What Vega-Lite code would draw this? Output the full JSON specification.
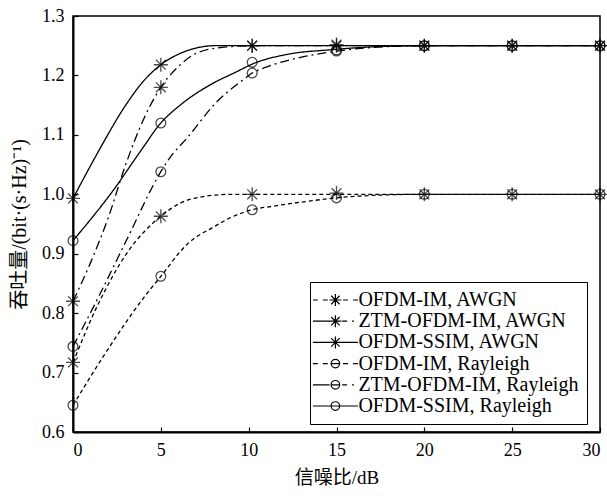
{
  "$schema": "https://vega.github.io/schema/vega-lite/v6.json",
  "width": 527,
  "height": 416,
  "autosize": "none",
  "padding": {"left": 73, "top": 16, "right": 7, "bottom": 71},
  "background": "white",
  "config": {
    "view": {"stroke": "black", "strokeWidth": 1.5},
    "axis": {
      "domainColor": "black", "domainWidth": 2, "tickColor": "black", "tickSize": -5, "tickWidth": 1.2,
      "grid": false, "labelColor": "black", "titleFontWeight": "normal", "titleColor": "black"
    }
  },
  "datasets": {
    "curves": [
      {"series": "OFDM-IM, AWGN", "snr": 0, "tp": 0.717},
      {"series": "OFDM-IM, AWGN", "snr": 1.35, "tp": 0.81},
      {"series": "OFDM-IM, AWGN", "snr": 3.07, "tp": 0.901},
      {"series": "OFDM-IM, AWGN", "snr": 5, "tp": 0.963},
      {"series": "OFDM-IM, AWGN", "snr": 6.1, "tp": 0.985},
      {"series": "OFDM-IM, AWGN", "snr": 7.4, "tp": 0.996},
      {"series": "OFDM-IM, AWGN", "snr": 9, "tp": 1.0},
      {"series": "OFDM-IM, AWGN", "snr": 10.2, "tp": 1.0},
      {"series": "OFDM-IM, AWGN", "snr": 15, "tp": 1.0},
      {"series": "OFDM-IM, AWGN", "snr": 20, "tp": 1.0},
      {"series": "OFDM-IM, AWGN", "snr": 25, "tp": 1.0},
      {"series": "OFDM-IM, AWGN", "snr": 30, "tp": 1.0},
      {"series": "ZTM-OFDM-IM, AWGN", "snr": 0, "tp": 0.82},
      {"series": "ZTM-OFDM-IM, AWGN", "snr": 1, "tp": 0.885},
      {"series": "ZTM-OFDM-IM, AWGN", "snr": 2, "tp": 0.96},
      {"series": "ZTM-OFDM-IM, AWGN", "snr": 3, "tp": 1.05},
      {"series": "ZTM-OFDM-IM, AWGN", "snr": 4, "tp": 1.125},
      {"series": "ZTM-OFDM-IM, AWGN", "snr": 5, "tp": 1.18},
      {"series": "ZTM-OFDM-IM, AWGN", "snr": 6, "tp": 1.215},
      {"series": "ZTM-OFDM-IM, AWGN", "snr": 7, "tp": 1.237},
      {"series": "ZTM-OFDM-IM, AWGN", "snr": 8.4, "tp": 1.247},
      {"series": "ZTM-OFDM-IM, AWGN", "snr": 10.2, "tp": 1.25},
      {"series": "ZTM-OFDM-IM, AWGN", "snr": 15, "tp": 1.25},
      {"series": "ZTM-OFDM-IM, AWGN", "snr": 20, "tp": 1.25},
      {"series": "ZTM-OFDM-IM, AWGN", "snr": 25, "tp": 1.25},
      {"series": "ZTM-OFDM-IM, AWGN", "snr": 30, "tp": 1.25},
      {"series": "OFDM-SSIM, AWGN", "snr": 0, "tp": 0.993},
      {"series": "OFDM-SSIM, AWGN", "snr": 1.5, "tp": 1.075},
      {"series": "OFDM-SSIM, AWGN", "snr": 3, "tp": 1.15},
      {"series": "OFDM-SSIM, AWGN", "snr": 4, "tp": 1.19},
      {"series": "OFDM-SSIM, AWGN", "snr": 5, "tp": 1.218},
      {"series": "OFDM-SSIM, AWGN", "snr": 6.1, "tp": 1.237},
      {"series": "OFDM-SSIM, AWGN", "snr": 7, "tp": 1.246},
      {"series": "OFDM-SSIM, AWGN", "snr": 8, "tp": 1.25},
      {"series": "OFDM-SSIM, AWGN", "snr": 10.2, "tp": 1.25},
      {"series": "OFDM-SSIM, AWGN", "snr": 15, "tp": 1.25},
      {"series": "OFDM-SSIM, AWGN", "snr": 20, "tp": 1.25},
      {"series": "OFDM-SSIM, AWGN", "snr": 25, "tp": 1.25},
      {"series": "OFDM-SSIM, AWGN", "snr": 30, "tp": 1.25},
      {"series": "OFDM-IM, Rayleigh", "snr": 0, "tp": 0.645},
      {"series": "OFDM-IM, Rayleigh", "snr": 1.7, "tp": 0.726},
      {"series": "OFDM-IM, Rayleigh", "snr": 4, "tp": 0.825},
      {"series": "OFDM-IM, Rayleigh", "snr": 5, "tp": 0.862},
      {"series": "OFDM-IM, Rayleigh", "snr": 6.5, "tp": 0.916},
      {"series": "OFDM-IM, Rayleigh", "snr": 8, "tp": 0.945},
      {"series": "OFDM-IM, Rayleigh", "snr": 9.3, "tp": 0.965},
      {"series": "OFDM-IM, Rayleigh", "snr": 10.2, "tp": 0.974},
      {"series": "OFDM-IM, Rayleigh", "snr": 11.4, "tp": 0.98},
      {"series": "OFDM-IM, Rayleigh", "snr": 13.3, "tp": 0.988},
      {"series": "OFDM-IM, Rayleigh", "snr": 15, "tp": 0.994},
      {"series": "OFDM-IM, Rayleigh", "snr": 17, "tp": 0.998},
      {"series": "OFDM-IM, Rayleigh", "snr": 20, "tp": 1.0},
      {"series": "OFDM-IM, Rayleigh", "snr": 25, "tp": 1.0},
      {"series": "OFDM-IM, Rayleigh", "snr": 30, "tp": 1.0},
      {"series": "ZTM-OFDM-IM, Rayleigh", "snr": 0, "tp": 0.744},
      {"series": "ZTM-OFDM-IM, Rayleigh", "snr": 1.5, "tp": 0.83},
      {"series": "ZTM-OFDM-IM, Rayleigh", "snr": 3, "tp": 0.92},
      {"series": "ZTM-OFDM-IM, Rayleigh", "snr": 5, "tp": 1.038},
      {"series": "ZTM-OFDM-IM, Rayleigh", "snr": 5.5, "tp": 1.061},
      {"series": "ZTM-OFDM-IM, Rayleigh", "snr": 6.5, "tp": 1.095},
      {"series": "ZTM-OFDM-IM, Rayleigh", "snr": 8.2, "tp": 1.156},
      {"series": "ZTM-OFDM-IM, Rayleigh", "snr": 9.7, "tp": 1.193},
      {"series": "ZTM-OFDM-IM, Rayleigh", "snr": 10.2, "tp": 1.204},
      {"series": "ZTM-OFDM-IM, Rayleigh", "snr": 10.9, "tp": 1.213},
      {"series": "ZTM-OFDM-IM, Rayleigh", "snr": 12.9, "tp": 1.23},
      {"series": "ZTM-OFDM-IM, Rayleigh", "snr": 14.8, "tp": 1.24},
      {"series": "ZTM-OFDM-IM, Rayleigh", "snr": 17, "tp": 1.247},
      {"series": "ZTM-OFDM-IM, Rayleigh", "snr": 20, "tp": 1.25},
      {"series": "ZTM-OFDM-IM, Rayleigh", "snr": 25, "tp": 1.25},
      {"series": "ZTM-OFDM-IM, Rayleigh", "snr": 30, "tp": 1.25},
      {"series": "OFDM-SSIM, Rayleigh", "snr": 0, "tp": 0.922},
      {"series": "OFDM-SSIM, Rayleigh", "snr": 2.3, "tp": 1.007},
      {"series": "OFDM-SSIM, Rayleigh", "snr": 3.9, "tp": 1.075},
      {"series": "OFDM-SSIM, Rayleigh", "snr": 5, "tp": 1.12},
      {"series": "OFDM-SSIM, Rayleigh", "snr": 6.1, "tp": 1.15},
      {"series": "OFDM-SSIM, Rayleigh", "snr": 7.8, "tp": 1.184},
      {"series": "OFDM-SSIM, Rayleigh", "snr": 9.3, "tp": 1.206},
      {"series": "OFDM-SSIM, Rayleigh", "snr": 10.2, "tp": 1.219},
      {"series": "OFDM-SSIM, Rayleigh", "snr": 12.3, "tp": 1.236},
      {"series": "OFDM-SSIM, Rayleigh", "snr": 14.6, "tp": 1.243},
      {"series": "OFDM-SSIM, Rayleigh", "snr": 17, "tp": 1.248},
      {"series": "OFDM-SSIM, Rayleigh", "snr": 20, "tp": 1.25},
      {"series": "OFDM-SSIM, Rayleigh", "snr": 25, "tp": 1.25},
      {"series": "OFDM-SSIM, Rayleigh", "snr": 30, "tp": 1.25}
    ],
    "markers": [
      {"series": "OFDM-IM, AWGN", "snr": 0, "tp": 0.717},
      {"series": "OFDM-IM, AWGN", "snr": 5, "tp": 0.963},
      {"series": "OFDM-IM, AWGN", "snr": 10.2, "tp": 1.0},
      {"series": "OFDM-IM, AWGN", "snr": 15, "tp": 1.002},
      {"series": "OFDM-IM, AWGN", "snr": 20, "tp": 1.0},
      {"series": "OFDM-IM, AWGN", "snr": 25, "tp": 1.0},
      {"series": "OFDM-IM, AWGN", "snr": 30, "tp": 1.0},
      {"series": "ZTM-OFDM-IM, AWGN", "snr": 0, "tp": 0.82},
      {"series": "ZTM-OFDM-IM, AWGN", "snr": 5, "tp": 1.18},
      {"series": "ZTM-OFDM-IM, AWGN", "snr": 10.2, "tp": 1.25},
      {"series": "ZTM-OFDM-IM, AWGN", "snr": 15, "tp": 1.252},
      {"series": "ZTM-OFDM-IM, AWGN", "snr": 20, "tp": 1.25},
      {"series": "ZTM-OFDM-IM, AWGN", "snr": 25, "tp": 1.25},
      {"series": "ZTM-OFDM-IM, AWGN", "snr": 30, "tp": 1.25},
      {"series": "OFDM-SSIM, AWGN", "snr": 0, "tp": 0.993},
      {"series": "OFDM-SSIM, AWGN", "snr": 5, "tp": 1.218},
      {"series": "OFDM-SSIM, AWGN", "snr": 10.2, "tp": 1.25},
      {"series": "OFDM-SSIM, AWGN", "snr": 15, "tp": 1.25},
      {"series": "OFDM-SSIM, AWGN", "snr": 20, "tp": 1.25},
      {"series": "OFDM-SSIM, AWGN", "snr": 25, "tp": 1.25},
      {"series": "OFDM-SSIM, AWGN", "snr": 30, "tp": 1.25},
      {"series": "OFDM-IM, Rayleigh", "snr": 0, "tp": 0.645},
      {"series": "OFDM-IM, Rayleigh", "snr": 5, "tp": 0.862},
      {"series": "OFDM-IM, Rayleigh", "snr": 10.2, "tp": 0.974},
      {"series": "OFDM-IM, Rayleigh", "snr": 15, "tp": 0.994},
      {"series": "OFDM-IM, Rayleigh", "snr": 20, "tp": 1.0},
      {"series": "OFDM-IM, Rayleigh", "snr": 25, "tp": 1.0},
      {"series": "OFDM-IM, Rayleigh", "snr": 30, "tp": 1.0},
      {"series": "ZTM-OFDM-IM, Rayleigh", "snr": 0, "tp": 0.744},
      {"series": "ZTM-OFDM-IM, Rayleigh", "snr": 5, "tp": 1.038},
      {"series": "ZTM-OFDM-IM, Rayleigh", "snr": 10.2, "tp": 1.204},
      {"series": "ZTM-OFDM-IM, Rayleigh", "snr": 15, "tp": 1.241},
      {"series": "ZTM-OFDM-IM, Rayleigh", "snr": 20, "tp": 1.25},
      {"series": "ZTM-OFDM-IM, Rayleigh", "snr": 25, "tp": 1.25},
      {"series": "ZTM-OFDM-IM, Rayleigh", "snr": 30, "tp": 1.25},
      {"series": "OFDM-SSIM, Rayleigh", "snr": 0, "tp": 0.922},
      {"series": "OFDM-SSIM, Rayleigh", "snr": 5, "tp": 1.12},
      {"series": "OFDM-SSIM, Rayleigh", "snr": 10.2, "tp": 1.222},
      {"series": "OFDM-SSIM, Rayleigh", "snr": 15, "tp": 1.243},
      {"series": "OFDM-SSIM, Rayleigh", "snr": 20, "tp": 1.25},
      {"series": "OFDM-SSIM, Rayleigh", "snr": 25, "tp": 1.25},
      {"series": "OFDM-SSIM, Rayleigh", "snr": 30, "tp": 1.25}
    ]
  },
  "encoding": {
    "x": {
      "field": "snr", "type": "quantitative",
      "scale": {"domain": [0, 30], "nice": false, "zero": false},
      "axis": {"title": "信噪比/dB", "values": [0, 5, 10, 15, 20, 25, 30], "labelPadding": 14, "titlePadding": 9,
        "labelFont": "Liberation Serif", "labelFontSize": 18, "titleFont": "Liberation Serif, Noto Sans CJK SC", "titleFontSize": 19}
    },
    "y": {
      "field": "tp", "type": "quantitative",
      "scale": {"domain": [0.6, 1.3], "nice": false, "zero": false},
      "axis": {"title": "吞吐量/(bit·(s·Hz)⁻¹)", "values": [0.6, 0.7, 0.8, 0.9, 1.0, 1.1, 1.2, 1.3], "format": ".1f", "labelPadding": 14, "titlePadding": 12,
        "labelFont": "Liberation Serif", "labelFontSize": 18, "titleFont": "Liberation Serif, Noto Sans CJK SC", "titleFontSize": 20}
    }
  },
  "layer": [
    {
      "data": {"name": "curves"},
      "mark": {"type": "line", "interpolate": "monotone", "color": "black", "strokeWidth": 1.3},
      "encoding": {
        "strokeDash": {
          "field": "series", "type": "nominal",
          "scale": {
            "range": [[4, 3], [4, 3], [1, 0], [1, 0], [9, 4, 2, 4], [9, 4, 2, 4]]
          },
          "legend": null
        }
      }
    },
    {
      "data": {"name": "markers"},
      "transform": [{"filter": "indexof(datum.series, 'AWGN') >= 0"}],
      "mark": {"type": "point", "filled": false, "color": "black", "strokeWidth": 1.3, "size": 196,
        "shape": "M0,-1L0,1M-1,0L1,0M-0.7,-0.7L0.7,0.7M-0.7,0.7L0.7,-0.7"}
    },
    {
      "data": {"name": "markers"},
      "transform": [{"filter": "indexof(datum.series, 'Rayleigh') >= 0"}],
      "mark": {"type": "point", "filled": false, "color": "black", "strokeWidth": 1.3, "size": 196,
        "shape": "M0.7,0A0.7,0.7,0,1,1,-0.7,0A0.7,0.7,0,1,1,0.7,0Z"}
    },
    {
      "data": {"name": "markers"},
      "transform": [{"filter": "datum.snr < -100"}],
      "mark": {"type": "point", "filled": false, "color": "black", "strokeWidth": 1.2},
      "encoding": {
        "shape": {
          "field": "series", "type": "nominal",
          "scale": {
            "domain": ["OFDM-IM, AWGN", "ZTM-OFDM-IM, AWGN", "OFDM-SSIM, AWGN", "OFDM-IM, Rayleigh", "ZTM-OFDM-IM, Rayleigh", "OFDM-SSIM, Rayleigh"],
            "range": [
              "M-5,0H-3.9M-2.8,0H-1.7M1.7,0H2.8M3.9,0H5M0,-1.33V1.33M-1.33,0H1.33M-0.94,-0.94L0.94,0.94M-0.94,0.94L0.94,-0.94",
              "M-5,0H-1.3M1.5,0H2.6M3.7,0H4.1M0,-1.33V1.33M-1.33,0H1.33M-0.94,-0.94L0.94,0.94M-0.94,0.94L0.94,-0.94",
              "M-5,0H5M0,-1.33V1.33M-0.94,-0.94L0.94,0.94M-0.94,0.94L0.94,-0.94",
              "M-5,0H-3.9M-2.8,0H-1.7M-0.95,0H0.95M1.7,0H2.8M3.9,0H5M0.95,0A0.95,0.95,0,1,1,-0.95,0A0.95,0.95,0,1,1,0.95,0",
              "M-5,0H-1.3M-0.95,0H0.95M1.5,0H2.6M3.7,0H4.1M0.95,0A0.95,0.95,0,1,1,-0.95,0A0.95,0.95,0,1,1,0.95,0",
              "M-5,0H5M0.95,0A0.95,0.95,0,1,1,-0.95,0A0.95,0.95,0,1,1,0.95,0"
            ]
          },
          "legend": {
            "title": null,
            "orient": "none",
            "legendX": 237,
            "legendY": 266,
            "padding": 8,
            "strokeColor": "black",
            "fillColor": "white",
            "labelFont": "Liberation Serif",
            "labelFontSize": 20,
            "labelColor": "black",
            "labelLimit": 400,
            "rowPadding": 1.2,
            "symbolSize": 81,
            "symbolOffset": 7.4,
            "labelOffset": 13,
            "symbolOpacity": 1,
            "symbolStrokeColor": "black",
            "symbolStrokeWidth": 1.2,
            "symbolFillColor": "transparent",
            "encode": {
              "legend": {"strokeWidth": {"value": 1.5}}
            }
          }
        }
      }
    }
  ]
}
